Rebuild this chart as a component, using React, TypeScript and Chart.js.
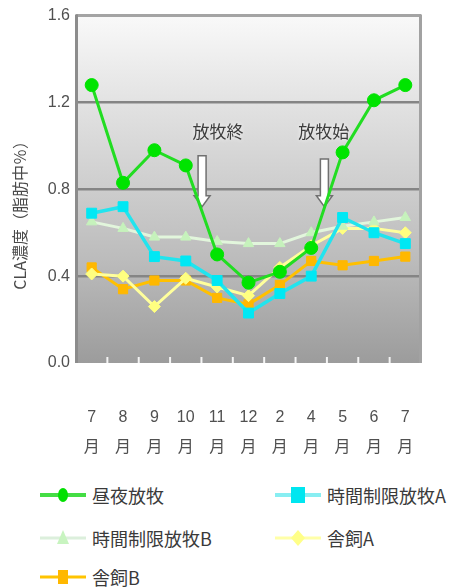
import React, { useEffect, useRef } from "react";
import { Chart, registerables } from "chart.js";

Chart.register(...registerables);

// ---- data ----
const months = ["7", "8", "9", "10", "11", "12", "2", "4", "5", "6", "7"];
const monthSuffix = "月";
const yTickValues = [0, 0.4, 0.8, 1.2, 1.6];
const seriesNames = ["昼夜放牧", "時間制限放牧A", "時間制限放牧B", "舎飼A", "舎飼B"];
const dayNight = [1.28, 0.83, 0.98, 0.91, 0.5, 0.37, 0.42, 0.53, 0.97, 1.21, 1.28];
const limitedA = [0.69, 0.72, 0.49, 0.47, 0.38, 0.23, 0.32, 0.4, 0.67, 0.6, 0.55];
const limitedB = [0.65, 0.62, 0.58, 0.58, 0.56, 0.55, 0.55, 0.6, 0.63, 0.65, 0.67];
const barnA = [0.41, 0.4, 0.26, 0.39, 0.35, 0.31, 0.44, 0.54, 0.62, 0.62, 0.6];
const barnB = [0.44, 0.34, 0.38, 0.38, 0.3, 0.27, 0.36, 0.47, 0.45, 0.47, 0.49];
const annotationLabels = ["放牧終", "放牧始"];
const yTitle = "CLA濃度（脂肪中％）";

const CJK = '"Noto Sans CJK JP", "Noto Sans", sans-serif';

const bgPlugin = {
  id: "bgPlot",
  beforeDraw(chart: any) {
    const { ctx, chartArea: a } = chart;
    const g = ctx.createLinearGradient(0, a.top, 0, a.bottom);
    g.addColorStop(0, "#f9f9f9");
    g.addColorStop(0.3, "#dedede");
    g.addColorStop(0.7, "#bcbcbc");
    g.addColorStop(1, "#9c9c9c");
    ctx.save();
    ctx.fillStyle = g;
    ctx.fillRect(a.left, a.top, a.right - a.left, a.bottom - a.top);
    ctx.restore();
  },
  beforeDatasetsDraw(chart: any) {
    const { ctx, chartArea: a, scales } = chart;
    const xs = scales.x;
    const ys = scales.y;
    ctx.save();
    // side borders
    ctx.strokeStyle = "#8c8c8c";
    ctx.lineWidth = 3;
    ctx.beginPath();
    ctx.moveTo(a.left + 0.5, a.top - 1);
    ctx.lineTo(a.left + 0.5, a.bottom);
    ctx.stroke();
    ctx.strokeStyle = "#a2a2a2";
    ctx.beginPath();
    ctx.moveTo(a.right - 0.5, a.top - 1);
    ctx.lineTo(a.right - 0.5, a.bottom);
    ctx.stroke();
    // white tick marks at the bottom between categories
    ctx.strokeStyle = "#f4f4f4";
    ctx.lineWidth = 2;
    for (let i = 1; i < months.length; i++) {
      const px = xs.getPixelForValue(i - 0.5);
      ctx.beginPath();
      ctx.moveTo(px, a.bottom - 6);
      ctx.lineTo(px, a.bottom);
      ctx.stroke();
    }
    // arrows + notes
    const opts = chart.options.plugins.arrowNotes;
    opts.items.forEach((it: any, i: number) => {
      const cx = xs.getPixelForValue(it.at);
      const top = ys.getPixelForValue(it.top);
      const tip = ys.getPixelForValue(it.tip);
      const hw = 4;
      const hh = 8;
      const headH = 11;
      ctx.beginPath();
      ctx.moveTo(cx - hw, top);
      ctx.lineTo(cx + hw, top);
      ctx.lineTo(cx + hw, tip - headH);
      ctx.lineTo(cx + hh, tip - headH);
      ctx.lineTo(cx, tip);
      ctx.lineTo(cx - hh, tip - headH);
      ctx.lineTo(cx - hw, tip - headH);
      ctx.closePath();
      ctx.fillStyle = "#ffffff";
      ctx.fill();
      ctx.strokeStyle = "#707070";
      ctx.lineWidth = 1.5;
      ctx.stroke();
      ctx.save();
      ctx.font = `17px ${CJK}`;
      ctx.fillStyle = "#3c3c3c";
      ctx.textAlign = "center";
      ctx.textBaseline = "middle";
      ctx.shadowColor = "rgba(255,255,255,0.9)";
      ctx.shadowBlur = 4;
      ctx.fillText(annotationLabels[i], xs.getPixelForValue(it.textAt), ys.getPixelForValue(it.textY));
      ctx.restore();
    });
    ctx.restore();
  },
  afterDraw(chart: any) {
    const { ctx, chartArea: a } = chart;
    ctx.save();
    ctx.translate(20, (a.top + a.bottom) / 2 + 22);
    ctx.rotate(-Math.PI / 2);
    ctx.font = `16px ${CJK}`;
    ctx.fillStyle = "#4a4a4a";
    ctx.textAlign = "center";
    ctx.textBaseline = "middle";
    ctx.fillText(yTitle, 0, 0);
    ctx.restore();
  },
};

function LegendMark({ kind }: { kind: number }) {
  const w = 50;
  const h = 20;
  const c = h / 2;
  const m = w / 2;
  if (kind === 0)
    return (
      <svg width={w} height={h}>
        <line x1={2} y1={c} x2={w - 2} y2={c} stroke="#44dd44" strokeWidth={4} />
        <ellipse cx={m} cy={c} rx={5} ry={7} fill="#00e000" />
      </svg>
    );
  if (kind === 1)
    return (
      <svg width={w} height={h}>
        <line x1={2} y1={c} x2={w - 2} y2={c} stroke="#88eef2" strokeWidth={4} />
        <rect x={m - 7} y={c - 8} width={14} height={16} fill="#00e6f0" />
      </svg>
    );
  if (kind === 2)
    return (
      <svg width={w} height={h}>
        <line x1={2} y1={c} x2={w - 2} y2={c} stroke="#dcefdc" strokeWidth={3} />
        <polygon points={`${m},${c - 8} ${m + 6},${c + 6} ${m - 6},${c + 6}`} fill="#c8f4c0" />
      </svg>
    );
  if (kind === 3)
    return (
      <svg width={w} height={h}>
        <line x1={2} y1={c} x2={w - 2} y2={c} stroke="#ffffa8" strokeWidth={3} />
        <polygon points={`${m},${c - 8} ${m + 7},${c} ${m},${c + 8} ${m - 7},${c}`} fill="#ffff88" />
      </svg>
    );
  return (
    <svg width={w} height={h}>
      <line x1={2} y1={c} x2={w - 2} y2={c} stroke="#ffc400" strokeWidth={3} />
      <rect x={m - 5} y={c - 7} width={10} height={14} fill="#ffb800" />
    </svg>
  );
}

export default function App() {
  const ref = useRef<HTMLCanvasElement | null>(null);

  useEffect(() => {
    document.body.style.margin = "0";
    const canvas = ref.current;
    if (!canvas) return;
    const mk = (i: number, data: number[], line: string, fill: string, style: string, r: number, bw: number) => ({
      label: seriesNames[i],
      data,
      borderColor: line,
      backgroundColor: fill,
      pointBackgroundColor: fill,
      pointBorderColor: fill,
      pointStyle: style,
      pointRadius: r,
      pointBorderWidth: 1,
      borderWidth: bw,
      tension: 0,
    });
    const chart = new Chart(canvas, {
      type: "line",
      data: {
        labels: months.map((m) => [m, monthSuffix]),
        datasets: [
          mk(0, dayNight, "#22dd22", "#00e400", "circle", 6.5, 3),
          mk(1, limitedA, "#22e4ee", "#00e8f4", "rect", 7, 3.5),
          mk(2, limitedB, "#e2f6dc", "#c6f2bc", "triangle", 6, 3),
          mk(3, barnA, "#ffff9c", "#ffff80", "rectRot", 6, 3),
          mk(4, barnB, "#ffc000", "#ffb800", "rect", 6.5, 3),
        ] as any,
      },
      options: {
        animation: false,
        responsive: true,
        maintainAspectRatio: false,
        layout: { padding: { top: 13, right: 38, left: 0, bottom: 0 } },
        plugins: {
          legend: { display: false },
          tooltip: { enabled: false },
          arrowNotes: {
            items: [
              { at: 3.52, top: 0.955, tip: 0.72, textAt: 4.03, textY: 1.066 },
              { at: 7.42, top: 0.94, tip: 0.72, textAt: 7.4, textY: 1.066 },
            ],
          },
        } as any,
        scales: {
          x: {
            type: "category",
            offset: true,
            grid: { display: false, drawTicks: false },
            border: { display: false },
            ticks: {
              color: "#505050",
              font: { size: 16, family: '"Liberation Sans", ' + CJK, lineHeight: 1.9 },
              padding: 39,
              maxRotation: 0,
              autoSkip: false,
            },
            afterFit: (s: any) => {
              s.height = 107;
            },
          },
          y: {
            min: 0,
            max: 1.6,
            afterBuildTicks: (s: any) => {
              s.ticks = yTickValues.map((v) => ({ value: v }));
            },
            grid: {
              drawTicks: false,
              color: (c: any) => (c.tick && c.tick.value === 0 ? "rgba(0,0,0,0)" : c.tick && c.tick.value === 1.6 ? "#a4a4a4" : "#858585"),
              lineWidth: (c: any) => (c.tick && c.tick.value === 1.6 ? 3 : 2.5),
            },
            border: { display: false },
            ticks: {
              color: "#505050",
              font: { size: 16, family: '"Liberation Sans", sans-serif' },
              padding: 6,
              callback: (v: any) => Number(v).toFixed(1),
            },
            afterFit: (s: any) => {
              s.width = 76;
            },
          },
        },
      },
      plugins: [bgPlugin],
    });
    return () => chart.destroy();
  }, []);

  const rows = [
    { kind: 0, left: 38, top: 25 },
    { kind: 1, left: 273, top: 25 },
    { kind: 2, left: 38, top: 68 },
    { kind: 3, left: 273, top: 68 },
    { kind: 4, left: 38, top: 107 },
  ];

  return (
    <div style={{ width: 459, position: "relative" }}>
      <div style={{ position: "relative", width: 459, height: 470 }}>
        <canvas ref={ref} />
      </div>
      <div style={{ position: "relative", width: 459, height: 117 }}>
        {rows.map((r) => (
          <div
            key={r.kind}
            style={{
              position: "absolute",
              left: r.left,
              top: r.top - 12,
              height: 24,
              display: "flex",
              alignItems: "center",
              whiteSpace: "nowrap",
            }}
          >
            <LegendMark kind={r.kind} />
            <span style={{ marginLeft: 4, font: `18px ${CJK}`, color: "#3a3a3a", lineHeight: "24px" }}>
              {seriesNames[r.kind]}
            </span>
          </div>
        ))}
      </div>
    </div>
  );
}
